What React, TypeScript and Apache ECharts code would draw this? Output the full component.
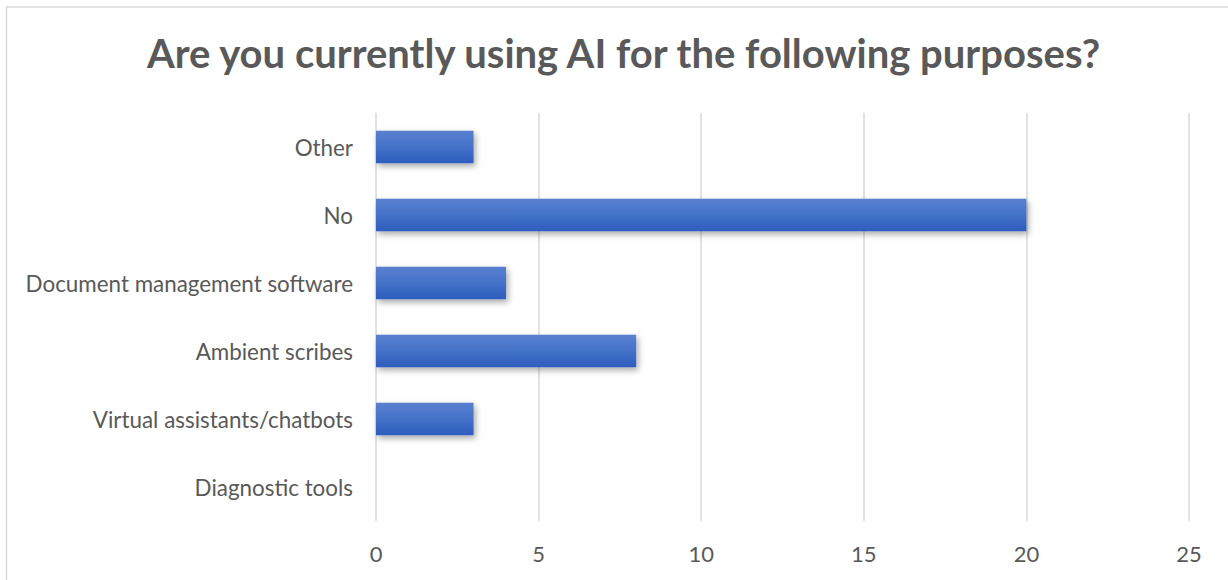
import React, { useEffect, useRef } from "react";
import * as echarts from "echarts";

const categories = [
  "Diagnostic tools",
  "Virtual assistants/chatbots",
  "Ambient scribes",
  "Document management software",
  "No",
  "Other",
];
const values = [0, 3, 8, 4, 20, 3];
const xMin = 0;
const xMax = 25;
const xInterval = 5;
const titleText = "Are you currently using AI for the following purposes?";

export default function App() {
  const ref = useRef<HTMLDivElement>(null);
  useEffect(() => {
    if (!ref.current) return;
    const chart = echarts.init(ref.current, undefined, { renderer: "svg" });
    const font = "Lato, 'Noto Sans', sans-serif";
    chart.setOption({
      animation: false,
      backgroundColor: "#ffffff",
      title: {
        text: titleText,
        left: 142,
        top: 28,
        textStyle: {
          fontFamily: font,
          fontSize: 40,
          fontWeight: "bold",
          color: "#595959",
        },
      },
      graphic: [
        {
          type: "rect",
          shape: { x: 6.5, y: 7, width: 1240, height: 600 },
          style: { fill: "none", stroke: "#d9d9d9", lineWidth: 1.5 },
          silent: true,
        },
      ],
      grid: { left: 376, right: 39, top: 113, bottom: 59, containLabel: false },
      xAxis: {
        type: "value",
        min: xMin,
        max: xMax,
        interval: xInterval,
        axisLine: { show: false },
        axisTick: { show: false },
        axisLabel: {
          fontFamily: font,
          fontSize: 22,
          color: "#595959",
          margin: 21,
        },
        splitLine: { show: true, lineStyle: { color: "#d9d9d9", width: 1.5 } },
      },
      yAxis: {
        type: "category",
        data: categories,
        axisLine: { show: false },
        axisTick: { show: false },
        axisLabel: {
          fontFamily: font,
          fontSize: 22.4,
          color: "#595959",
          margin: 23,
        },
      },
      series: [
        {
          type: "bar",
          data: values,
          barCategoryGap: "52%",
          itemStyle: {
            color: new echarts.graphic.LinearGradient(0, 0, 0, 1, [
              { offset: 0, color: "#5a80d0" },
              { offset: 0.5, color: "#4472c9" },
              { offset: 1, color: "#2d5cbc" },
            ]),
            shadowColor: "rgba(0,0,0,0.35)",
            shadowBlur: 6,
            shadowOffsetX: 2,
            shadowOffsetY: 3,
          },
        },
      ],
    });
    return () => chart.dispose();
  }, []);
  return (
    <div
      ref={ref}
      style={{ position: "absolute", left: 0, top: 0, width: 1228, height: 580 }}
    />
  );
}
